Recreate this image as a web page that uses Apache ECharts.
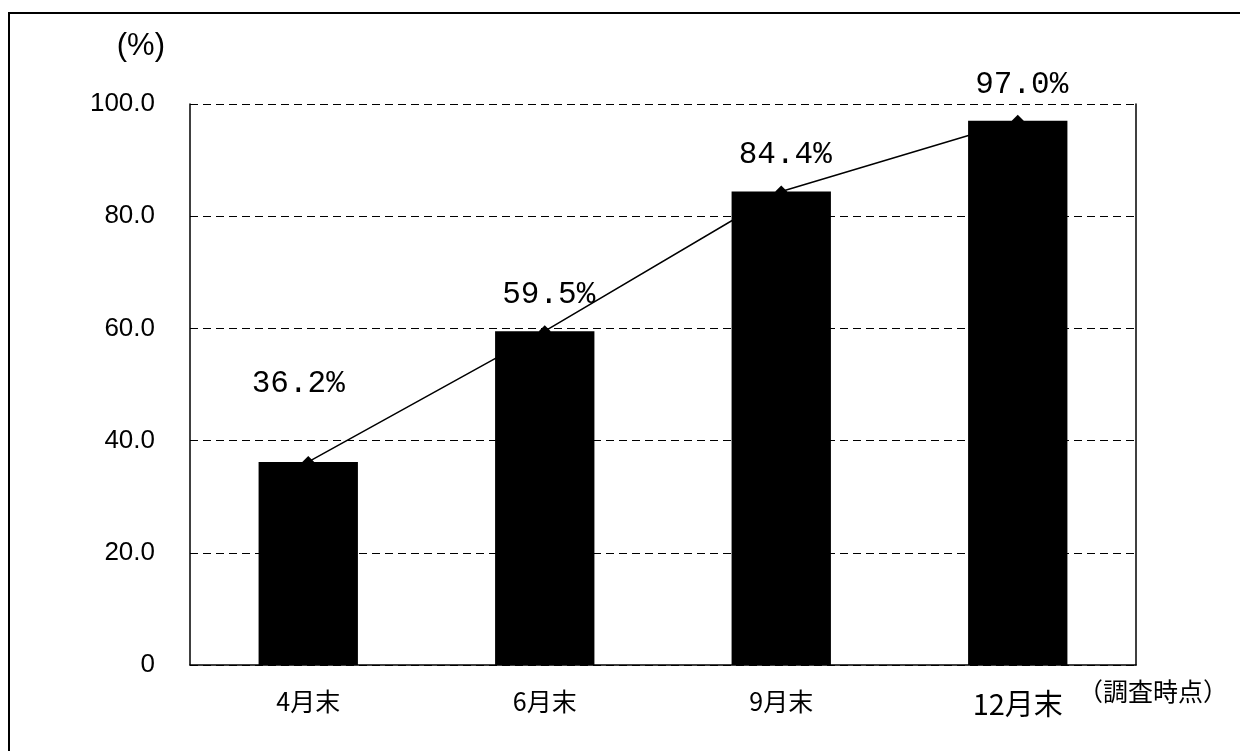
<!DOCTYPE html>
<html lang="ja">
<head>
    <meta charset="UTF-8">
    <title>調査時点別</title>
    <script src="https://cdn.jsdelivr.net/npm/echarts@6/dist/echarts.min.js"></script>
    <style>
        html, body { margin: 0; padding: 0; background: #fff; }
    </style>
</head>
<body>
<div id="main" style="width: 1240px;height:751px;"></div>
<script type="text/javascript">
    // データ
    var categories = ['4月末', '6月末', '9月末', '12月末'];
    var rates = [36.2, 59.5, 84.4, 97.0];
    var yTicks = [0, 20, 40, 60, 80, 100];

    var myChart = echarts.init(document.getElementById('main'));

    var labelFont = 'Liberation Sans, Arial, sans-serif';
    var cjkFont = '"Noto Sans CJK JP", sans-serif';

    var option = {
        backgroundColor: '#fff',
        animation: false,
        grid: { left: 190, right: 104, top: 104, bottom: 86 },
        graphic: [{
            // 外枠（上と左）
            type: 'polyline',
            shape: { points: [[9, 751], [9, 13], [1240, 13]] },
            style: { stroke: '#000', lineWidth: 2, fill: null }
        }, {
            type: 'text',
            left: 1078,
            top: 679,
            style: { text: '（調査時点）', fill: '#000', font: '25px "Noto Sans CJK JP", sans-serif' }
        }],
        xAxis: {
            type: 'category',
            data: categories,
            axisLine: { lineStyle: { color: '#000', width: 1.5 } },
            axisTick: { show: false },
            axisLabel: {
                color: '#000', fontFamily: cjkFont, fontSize: 25, margin: 24,
                formatter: function (v) { return v === '12月末' ? '{big|' + v + '}' : v; },
                rich: { big: { fontSize: 29, fontFamily: cjkFont, color: '#000' } }
            }
        },
        yAxis: [{
            type: 'value',
            min: yTicks[0],
            max: yTicks[yTicks.length - 1],
            interval: 20,
            name: '(%)',
            nameLocation: 'end',
            nameGap: 42,
            nameTextStyle: { color: '#000', fontSize: 31, fontFamily: labelFont, align: 'right', padding: [0, 25, 0, 0] },
            axisLine: { show: true, lineStyle: { color: '#000', width: 1.5 } },
            axisTick: { show: false },
            axisLabel: {
                color: '#000', fontSize: 26, fontFamily: labelFont, margin: 35,
                formatter: function (v) { return v === 0 ? '0' : v.toFixed(1); }
            },
            splitLine: { lineStyle: { color: '#000', type: [8, 5], width: 1.2 } }
        }, {
            // 右側の枠線
            type: 'value',
            min: 0, max: 100, interval: 20,
            position: 'right',
            axisLine: { show: true, lineStyle: { color: '#000', width: 1.5 } },
            axisTick: { show: false },
            axisLabel: { show: false },
            splitLine: { show: false }
        }],
        series: [{
            type: 'bar',
            data: rates,
            barWidth: '42%',
            itemStyle: { color: '#000' },
            silent: true
        }, {
            type: 'line',
            data: rates.map(function (v, i) {
                return {
                    value: v,
                    label: { offset: i === 0 ? [-10, -42] : [4, 0] }
                };
            }),
            symbol: 'diamond',
            symbolSize: 12,
            lineStyle: { color: '#000', width: 1.5 },
            itemStyle: { color: '#000' },
            label: {
                show: true,
                position: 'top',
                distance: 15,
                color: '#000',
                fontSize: 31,
                fontFamily: '"Liberation Mono", "DejaVu Sans Mono", monospace',
                formatter: function (p) { return p.value.toFixed(1) + '%'; }
            },
            z: 5
        }]
    };

    myChart.setOption(option);
</script>
</body>
</html>
